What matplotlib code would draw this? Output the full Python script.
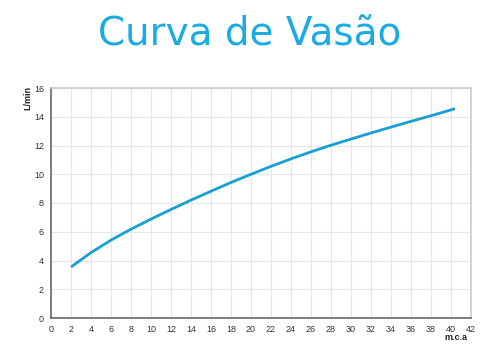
import matplotlib
matplotlib.use("Agg")
import matplotlib.pyplot as plt

# flow curve
pressure_mca = [2, 4, 6, 8, 10, 12, 14, 16, 18, 20, 22, 24, 26, 28, 30, 32, 34, 36, 38, 40.4]
flow_lmin = [3.55, 4.55, 5.42, 6.18, 6.88, 7.55, 8.2, 8.82, 9.43, 10.0, 10.55, 11.07, 11.56,
             12.02, 12.45, 12.87, 13.28, 13.68, 14.07, 14.56]
x_ticks = list(range(0, 43, 2))
y_ticks = list(range(0, 17, 2))

title = "Curva de Vasão"
x_label = "m.c.a"
y_label = "L/min"

plt.rcParams["font.family"] = ["Liberation Sans", "DejaVu Sans"]

fig = plt.figure(figsize=(5, 3.6), dpi=100)
ax = fig.add_axes([51 / 500, 1 - 318 / 360, 420 / 500, 230 / 360])

ax.plot(pressure_mca, flow_lmin, color="#1a9fd4", linewidth=2.0,
        solid_capstyle="butt", solid_joinstyle="round")

ax.set_xlim(0, 42)
ax.set_ylim(0, 16)
ax.set_xticks(x_ticks)
ax.set_yticks(y_ticks)
ax.grid(True, color="#e6e6e6", linewidth=0.8)
ax.set_axisbelow(True)

for side in ["top", "right"]:
    ax.spines[side].set_color("#cccccc")
    ax.spines[side].set_linewidth(1.2)
for side in ["left", "bottom"]:
    ax.spines[side].set_color("#666666")
    ax.spines[side].set_linewidth(1.2)

ax.tick_params(length=0, labelsize=6.5, labelcolor="#333333", pad=5)

fig.text(467 / 500, 1 - 337 / 360, x_label, ha="right", va="center",
         fontsize=6.5, fontweight="bold", color="#222222")
fig.text(28 / 500, 1 - 98 / 360, y_label, ha="center", va="center", rotation=90,
         fontsize=6.5, fontweight="bold", color="#222222")

fig.text(0.5, 1 - 34 / 360, title, ha="center", va="center",
         fontsize=28, color="#1aabe3", family=["DejaVu Sans"])

fig.savefig("out.png", dpi=100, facecolor="white")
